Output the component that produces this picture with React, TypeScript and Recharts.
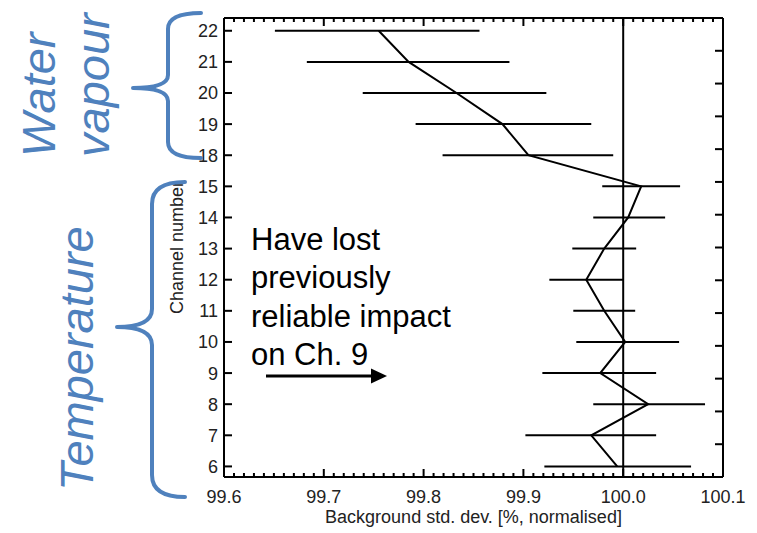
import React from "react";
import { ErrorBar, Label, Line, LineChart, ReferenceLine, XAxis, YAxis } from "recharts";

// channels, bottom to top (16 and 17 are not shown)
const channels = ["6", "7", "8", "9", "10", "11", "12", "13", "14", "15", "18", "19", "20", "21", "22"];
const means = [99.994, 99.968, 100.025, 99.977, 100.002, 99.981, 99.963, 99.981, 100.005, 100.018, 99.905, 99.879, 99.833, 99.785, 99.755];
const lows = [99.921, 99.902, 99.97, 99.919, 99.953, 99.95, 99.926, 99.949, 99.97, 99.979, 99.819, 99.792, 99.739, 99.683, 99.651];
const highs = [100.068, 100.033, 100.082, 100.033, 100.056, 100.012, 100.0, 100.013, 100.042, 100.057, 99.99, 99.968, 99.923, 99.886, 99.856];
const xTickLabels = [99.6, 99.7, 99.8, 99.9, 100.0, 100.1];
const noteLines = ["Have lost", "previously", "reliable impact", "on Ch. 9"];

const FONT = '"Liberation Sans", Arial, Helvetica, sans-serif';
const BLUE = "#4F81BD";

const xTicks: number[] = [];
for (let i = 0; i <= 50; i++) xTicks.push(Math.round((99.6 + i * 0.01) * 100) / 100);
const rowTicks = channels.map((_, i) => i);

const data = channels.map((ch, i) => ({
  ch,
  pos: i,
  mean: means[i],
  err: [means[i] - lows[i], highs[i] - means[i]],
}));

const isMajor = (v: number) => xTickLabels.some((m) => Math.abs(m - v) < 1e-6);

function BottomTick(props: any) {
  const { x, y, payload } = props;
  const major = isMajor(payload.value);
  return (
    <g>
      <line x1={x} x2={x} y1={y} y2={y - (major ? 8 : 4)} stroke="#000" strokeWidth={2} />
      {major && (
        <text x={x} y={y + 26} textAnchor="middle" fontSize={18} fontFamily={FONT} fill="#222">
          {payload.value.toFixed(1)}
        </text>
      )}
    </g>
  );
}

function TopTick(props: any) {
  const { x, y, payload } = props;
  const major = isMajor(payload.value);
  return <line x1={x} x2={x} y1={y} y2={y + (major ? 8 : 4)} stroke="#000" strokeWidth={2} />;
}

function LeftTick(props: any) {
  const { x, y, payload } = props;
  return (
    <g>
      <line x1={x} x2={x + 8} y1={y} y2={y} stroke="#000" strokeWidth={2} />
      <text x={x - 6} y={y + 6.5} textAnchor="end" fontSize={18} fontFamily={FONT} fill="#222">
        {channels[payload.value]}
      </text>
    </g>
  );
}

function RightTick(props: any) {
  const { x, y } = props;
  return <line x1={x} x2={x - 8} y1={y} y2={y} stroke="#000" strokeWidth={2} />;
}

function brace(xr: number, yt: number, yb: number, s: number, xt: number, ym: number, r: number, rt: number) {
  return [
    `M ${xr} ${yt}`,
    `Q ${s} ${yt} ${s} ${yt + r}`,
    `L ${s} ${ym - rt}`,
    `Q ${s} ${ym} ${xt} ${ym}`,
    `Q ${s} ${ym} ${s} ${ym + rt}`,
    `L ${s} ${yb - r}`,
    `Q ${s} ${yb} ${xr} ${yb}`,
  ].join(" ");
}

function Overlay() {
  return (
    <svg width={757} height={533} style={{ position: "absolute", left: 0, top: 0, pointerEvents: "none" }}>
      <g fill={BLUE} fontFamily={FONT} fontStyle="italic" fontSize={47}>
        <text transform="translate(55,157) rotate(-90)">Water</text>
        <text transform="translate(109,157) rotate(-90)">vapour</text>
        <text transform="translate(93,491) rotate(-90)">Temperature</text>
      </g>
      <g fill="none" stroke={BLUE} strokeWidth={4} strokeLinecap="round" strokeLinejoin="round">
        <path d={brace(201, 13, 158, 168, 133, 88, 16, 13)} />
        <path d={brace(185, 182, 497, 152, 117, 327, 22, 18)} />
      </g>
      <g fontFamily={FONT} fontSize={31} fill="#000">
        {noteLines.map((t, i) => (
          <text key={t} x={251} y={250 + i * 38.4}>
            {t}
          </text>
        ))}
      </g>
      <line x1={266} x2={373} y1={376} y2={376} stroke="#000" strokeWidth={3} />
      <polygon points="371,368.5 387,376 371,383.5" fill="#000" />
    </svg>
  );
}

export default function App() {
  return (
    <div style={{ position: "absolute", left: 0, top: 0, width: 757, height: 533, background: "#fff" }}>
      <LineChart
        width={757}
        height={533}
        data={data}
        layout="vertical"
        margin={{ top: 10, right: 24, bottom: 10, left: 174 }}
      >
        <XAxis
          type="number"
          dataKey="mean"
          domain={[99.6, 100.1]}
          ticks={xTicks}
          interval={0}
          allowDataOverflow
          height={46}
          tickSize={0}
          tickMargin={0}
          tickLine={false}
          axisLine={{ stroke: "#000", strokeWidth: 2 }}
          tick={<BottomTick />}
        >
          <Label
            content={(p: any) => {
              const vb = p.viewBox || { x: 224, y: 477, width: 499 };
              return (
                <text x={vb.x + vb.width / 2} y={vb.y + 46} textAnchor="middle" fontSize={18} fontFamily={FONT} fill="#222">
                  Background std. dev. [%, normalised]
                </text>
              );
            }}
          />
        </XAxis>
        <XAxis
          xAxisId="top"
          orientation="top"
          type="number"
          domain={[99.6, 100.1]}
          ticks={xTicks}
          interval={0}
          allowDataOverflow
          height={8}
          tickSize={0}
          tickMargin={0}
          tickLine={false}
          axisLine={{ stroke: "#000", strokeWidth: 2 }}
          tick={<TopTick />}
        />
        <YAxis
          type="number"
          dataKey="pos"
          domain={[-0.34, 14.41]}
          reversed
          ticks={rowTicks}
          interval={0}
          allowDataOverflow
          width={50}
          tickSize={0}
          tickMargin={0}
          tickLine={false}
          axisLine={{ stroke: "#000", strokeWidth: 2 }}
          tick={<LeftTick />}
        >
          <Label
            content={(p: any) => {
              const vb = p.viewBox || { x: 174, y: 18, height: 459 };
              const cx = vb.x + 9;
              const cy = vb.y + vb.height / 2;
              return (
                <text
                  transform={`translate(${cx},${cy}) rotate(-90)`}
                  textAnchor="middle"
                  fontSize={18}
                  fontFamily={FONT}
                  fill="#222"
                >
                  Channel number
                </text>
              );
            }}
          />
        </YAxis>
        <YAxis
          yAxisId="right"
          orientation="right"
          type="number"
          domain={[-0.34, 14.41]}
          reversed
          ticks={rowTicks}
          interval={0}
          allowDataOverflow
          width={10}
          tickSize={0}
          tickMargin={0}
          tickLine={false}
          axisLine={{ stroke: "#000", strokeWidth: 2 }}
          tick={<RightTick />}
        />
        <ReferenceLine x={100} stroke="#000" strokeWidth={2} />
        <Line
          dataKey="mean"
          type="linear"
          stroke="#000"
          strokeWidth={2}
          dot={false}
          activeDot={false}
          isAnimationActive={false}
        >
          <ErrorBar dataKey="err" direction="x" width={0} stroke="#000" strokeWidth={2} isAnimationActive={false} />
        </Line>
      </LineChart>
      <Overlay />
    </div>
  );
}
